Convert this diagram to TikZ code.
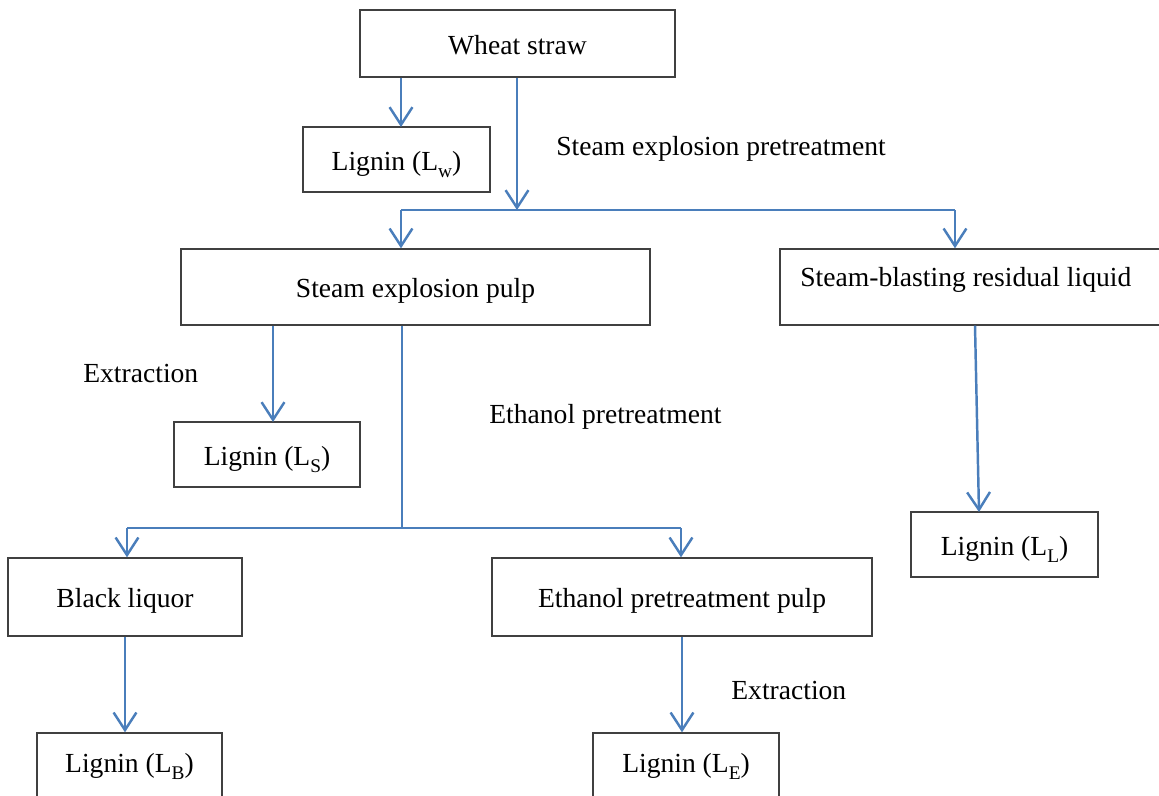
\documentclass[tikz,border=0pt]{standalone}
\usepackage{fontspec}
\setmainfont{Liberation Serif}
\usepackage{tikz}
\usetikzlibrary{arrows.meta,calc}

\definecolor{arrowblue}{RGB}{74,126,187}
\definecolor{boxgray}{RGB}{64,64,64}
\newcommand{\lsub}[1]{\raisebox{-0.55ex}{\fontsize{11}{12}\selectfont #1}}

\begin{document}
\begin{tikzpicture}[x=0.02cm,y=-0.02cm,
    every node/.style={font=\fontsize{15.7}{18}\selectfont,text height=12.5pt,text depth=0pt},
    box/.style={draw=boxgray,line width=0.8pt,inner sep=0pt},
    arr/.style={draw=arrowblue,line width=1.4pt,-{Straight Barb[length=10pt,width=13pt,line width=1.4pt]}},
    pipe/.style={draw=arrowblue,line width=1.4pt},
    txt/.style={anchor=west,inner sep=0pt}]
  \clip (0,0) rectangle (1159,795);

  % boxes
  \node[box,minimum width=315*0.02cm,minimum height=67*0.02cm] (wheat) at (517.5,43.5) {Wheat straw};
  \node[box,minimum width=187*0.02cm,minimum height=65*0.02cm] (lw) at (396.5,159.5) {Lignin (L\lsub{w})};
  \node[box,minimum width=469*0.02cm,minimum height=76*0.02cm] (sep) at (415.5,287) {Steam explosion pulp};
  \node[box,minimum width=390*0.02cm,minimum height=76*0.02cm] (res) at (975,287) {};
  \node[txt] (restext) at (800,276) {Steam-blasting residual liquid};
  \node[box,minimum width=186*0.02cm,minimum height=65*0.02cm] (ls) at (267,454.5) {Lignin (L\lsub{S})};
  \node[box,minimum width=187*0.02cm,minimum height=65*0.02cm] (ll) at (1004.5,544.5) {Lignin (L\lsub{L})};
  \node[box,minimum width=234*0.02cm,minimum height=78*0.02cm] (bl) at (125,597) {Black liquor};
  \node[box,minimum width=380*0.02cm,minimum height=78*0.02cm] (ep) at (682,597) {Ethanol pretreatment pulp};
  \node[box,minimum width=185*0.02cm,minimum height=65*0.02cm] (lb) at (129.5,765.5) {};
  \node (lbtext) at (129.5,762) {Lignin (L\lsub{B})};
  \node[box,minimum width=186*0.02cm,minimum height=65*0.02cm] (le) at (686,765.5) {};
  \node (letext) at (686,762) {Lignin (L\lsub{E})};

  % labels
  \node[txt] (steamlbl) at (556,145) {Steam explosion pretreatment};
  \node[txt] (extr1) at (83,372) {Extraction};
  \node[txt] (ethlbl) at (489,413) {Ethanol pretreatment};
  \node[txt] (extr2) at (731,689) {Extraction};

  % junctions
  \coordinate (lwin) at (401,127);
  \coordinate (lsin) at (273,422);
  \coordinate (split1) at (517,210);
  \coordinate (j1l) at (401,210);
  \coordinate (j1r) at (955,210);
  \coordinate (split2) at (402,528);
  \coordinate (j2l) at (127,528);
  \coordinate (j2r) at (681,528);
  \coordinate (llin) at (979,512);

  % connectors
  \draw[arr] (wheat.south -| lwin) -- (lwin);
  \draw[arr] (wheat.south -| split1) -- (split1);
  \draw[pipe] (j1l) -- (j1r);
  \draw[arr] (j1l) -- (j1l |- sep.north);
  \draw[arr] (j1r) -- (j1r |- res.north);
  \draw[arr] (sep.south -| lsin) -- (lsin);
  \draw[pipe] (sep.south -| split2) -- (split2);
  \draw[pipe] (j2l) -- (j2r);
  \draw[arr] (j2l) -- (j2l |- bl.north);
  \draw[arr] (j2r) -- (j2r |- ep.north);
  \draw[arr] (res.south) -- (llin);
  \draw[arr] (bl.south) -- (bl.south |- lb.north);
  \draw[arr] (ep.south) -- (ep.south |- le.north);
\end{tikzpicture}
\end{document}
